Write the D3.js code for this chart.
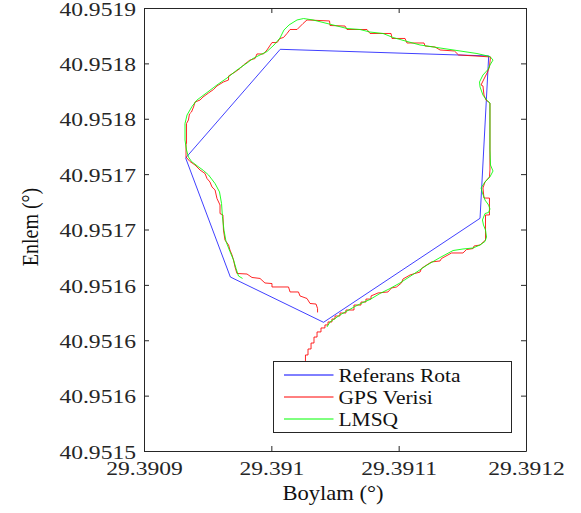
<!DOCTYPE html>
<html>
<head>
<meta charset="utf-8">
<script src="https://cdn.jsdelivr.net/npm/d3@7"></script>
<style>
body { margin: 0; background: #fff; }
text { font-family: "Liberation Serif", "Times New Roman", serif; }
</style>
</head>
<body>
<div id="chartContainer"></div>
<script>
// Referans Rota (blue polygon)
const refLon = [29.3909327, 29.3910070, 29.3911707, 29.3911639, 29.3910410, 29.3909678, 29.3909327];
const refLat = [40.9517646, 40.9518627, 40.9518567, 40.9517101, 40.9516162, 40.9516571, 40.9517646];

// GPS Verisi (red, raw track)
const gpsLon = [
  29.3910268, 29.3910268, 29.3910288, 29.3910288, 29.3910312, 29.3910312, 29.3910335, 29.3910335, 29.3910359, 29.3910359,
  29.3910390, 29.3910390, 29.3910421, 29.3910421, 29.3910445, 29.3910445, 29.3910476, 29.3910476, 29.3910500, 29.3910500,
  29.3910539, 29.3910539, 29.3910586, 29.3910586, 29.3910649, 29.3910649, 29.3910704, 29.3910704, 29.3910743, 29.3910743,
  29.3910783, 29.3910783, 29.3910838, 29.3910916, 29.3910944, 29.3910983, 29.3911022, 29.3911034, 29.3911089, 29.3911128,
  29.3911168, 29.3911179, 29.3911219, 29.3911258, 29.3911325, 29.3911336, 29.3911387, 29.3911415, 29.3911505, 29.3911533,
  29.3911584, 29.3911592, 29.3911639, 29.3911682, 29.3911682, 29.3911713, 29.3911713, 29.3911670, 29.3911662, 29.3911678,
  29.3911713, 29.3911717, 29.3911717, 29.3911686, 29.3911670, 29.3911662, 29.3911647, 29.3911666, 29.3911698, 29.3911713,
  29.3911721, 29.3911600, 29.3911470, 29.3911438, 29.3911325, 29.3911285, 29.3911207, 29.3911199, 29.3911065, 29.3911050,
  29.3910948, 29.3910940, 29.3910775, 29.3910751, 29.3910594, 29.3910579, 29.3910461, 29.3910457, 29.3910280, 29.3910249,
  29.3910202, 29.3910147, 29.3910123, 29.3910096, 29.3910068, 29.3910045, 29.3910005, 29.3909966, 29.3909938, 29.3909887,
  29.3909872, 29.3909832, 29.3909781, 29.3909754, 29.3909715, 29.3909664, 29.3909664, 29.3909624, 29.3909573, 29.3909546,
  29.3909507, 29.3909463, 29.3909440, 29.3909401, 29.3909389, 29.3909373, 29.3909357, 29.3909349, 29.3909334, 29.3909334,
  29.3909330, 29.3909330, 29.3909361, 29.3909401, 29.3909440, 29.3909479, 29.3909495, 29.3909518, 29.3909534, 29.3909558,
  29.3909573, 29.3909597, 29.3909597, 29.3909620, 29.3909624, 29.3909636, 29.3909664, 29.3909675, 29.3909691, 29.3909703,
  29.3909715, 29.3909730, 29.3909809, 29.3909848, 29.3909911, 29.3909950, 29.3910005, 29.3910005, 29.3910135, 29.3910147,
  29.3910213, 29.3910225, 29.3910280, 29.3910304, 29.3910351, 29.3910363, 29.3910363
];
const gpsLat = [
  40.9515813, 40.9515867, 40.9515867, 40.9515921, 40.9515921, 40.9515975, 40.9515975, 40.9516029, 40.9516029, 40.9516075,
  40.9516075, 40.9516111, 40.9516111, 40.9516138, 40.9516138, 40.9516165, 40.9516165, 40.9516192, 40.9516192, 40.9516219,
  40.9516219, 40.9516246, 40.9516246, 40.9516273, 40.9516273, 40.9516318, 40.9516318, 40.9516345, 40.9516345, 40.9516372,
  40.9516372, 40.9516400, 40.9516427, 40.9516436, 40.9516472, 40.9516481, 40.9516517, 40.9516553, 40.9516589, 40.9516603,
  40.9516616, 40.9516648, 40.9516679, 40.9516707, 40.9516716, 40.9516738, 40.9516770, 40.9516788, 40.9516788, 40.9516819,
  40.9516828, 40.9516851, 40.9516860, 40.9516905, 40.9517131, 40.9517131, 40.9517284, 40.9517284, 40.9517375, 40.9517429,
  40.9517475, 40.9517537, 40.9518142, 40.9518169, 40.9518214, 40.9518296, 40.9518305, 40.9518350, 40.9518422, 40.9518467,
  40.9518558, 40.9518567, 40.9518576, 40.9518612, 40.9518621, 40.9518648, 40.9518657, 40.9518684, 40.9518684, 40.9518725,
  40.9518725, 40.9518770, 40.9518770, 40.9518806, 40.9518806, 40.9518837, 40.9518842, 40.9518883, 40.9518892, 40.9518860,
  40.9518806, 40.9518806, 40.9518770, 40.9518734, 40.9518725, 40.9518688, 40.9518688, 40.9518621, 40.9518585, 40.9518585,
  40.9518544, 40.9518530, 40.9518485, 40.9518454, 40.9518422, 40.9518386, 40.9518350, 40.9518332, 40.9518296, 40.9518264,
  40.9518233, 40.9518196, 40.9518169, 40.9518151, 40.9518106, 40.9518061, 40.9518043, 40.9517989, 40.9517957, 40.9517777,
  40.9517777, 40.9517655, 40.9517614, 40.9517582, 40.9517537, 40.9517506, 40.9517460, 40.9517429, 40.9517384, 40.9517357,
  40.9517280, 40.9517221, 40.9517144, 40.9517131, 40.9516995, 40.9516905, 40.9516860, 40.9516815, 40.9516770, 40.9516725,
  40.9516661, 40.9516603, 40.9516598, 40.9516567, 40.9516558, 40.9516517, 40.9516512, 40.9516481, 40.9516481, 40.9516436,
  40.9516436, 40.9516400, 40.9516377, 40.9516332, 40.9516327, 40.9516287, 40.9516251
];

// LMSQ (green, smoothed track)
const lmsqLon = [
  29.3910437, 29.3910461, 29.3910500, 29.3910539, 29.3910594, 29.3910657, 29.3910720, 29.3910775, 29.3910853, 29.3910932,
  29.3911010, 29.3911113, 29.3911223, 29.3911325, 29.3911427, 29.3911505, 29.3911584, 29.3911639, 29.3911678, 29.3911690,
  29.3911682, 29.3911666, 29.3911658, 29.3911678, 29.3911706, 29.3911717, 29.3911706, 29.3911678, 29.3911658, 29.3911647,
  29.3911678, 29.3911717, 29.3911741, 29.3911721, 29.3911717, 29.3911717, 29.3911690, 29.3911662, 29.3911639, 29.3911635,
  29.3911662, 29.3911702, 29.3911717, 29.3911741, 29.3911717, 29.3911615, 29.3911458, 29.3911301, 29.3911168, 29.3911065,
  29.3910955, 29.3910877, 29.3910775, 29.3910696, 29.3910594, 29.3910484, 29.3910327, 29.3910253, 29.3910202, 29.3910139,
  29.3910099, 29.3910068, 29.3910021, 29.3909966, 29.3909911, 29.3909856, 29.3909809, 29.3909730, 29.3909652, 29.3909573,
  29.3909495, 29.3909416, 29.3909377, 29.3909338, 29.3909322, 29.3909322, 29.3909334, 29.3909349, 29.3909373, 29.3909424,
  29.3909467, 29.3909507, 29.3909558, 29.3909593, 29.3909609, 29.3909616, 29.3909628, 29.3909644, 29.3909675, 29.3909703,
  29.3909723, 29.3909742, 29.3909774
];
const lmsqLat = [
  40.9516120, 40.9516165, 40.9516196, 40.9516228, 40.9516264, 40.9516305, 40.9516341, 40.9516368, 40.9516422, 40.9516467,
  40.9516517, 40.9516594, 40.9516679, 40.9516747, 40.9516810, 40.9516824, 40.9516833, 40.9516860, 40.9516892, 40.9516932,
  40.9516995, 40.9517041, 40.9517086, 40.9517144, 40.9517154, 40.9517185, 40.9517221, 40.9517266, 40.9517330, 40.9517375,
  40.9517429, 40.9517475, 40.9517528, 40.9517582, 40.9517718, 40.9518142, 40.9518169, 40.9518214, 40.9518287, 40.9518332,
  40.9518395, 40.9518445, 40.9518485, 40.9518530, 40.9518562, 40.9518589, 40.9518616, 40.9518643, 40.9518666, 40.9518698,
  40.9518734, 40.9518770, 40.9518783, 40.9518806, 40.9518815, 40.9518847, 40.9518892, 40.9518905, 40.9518892, 40.9518847,
  40.9518801, 40.9518729, 40.9518666, 40.9518607, 40.9518576, 40.9518544, 40.9518503, 40.9518440, 40.9518368, 40.9518305,
  40.9518237, 40.9518169, 40.9518111, 40.9518034, 40.9517957, 40.9517808, 40.9517718, 40.9517655, 40.9517614, 40.9517569,
  40.9517533, 40.9517492, 40.9517415, 40.9517339, 40.9517235, 40.9517117, 40.9516995, 40.9516892, 40.9516801, 40.9516725,
  40.9516648, 40.9516580, 40.9516558
];

const xTicks = [29.3909, 29.391, 29.3911, 29.3912];
const xTickLabels = ["29.3909", "29.391", "29.3911", "29.3912"];
const yTicks = [40.9515, 40.95155, 40.9516, 40.95165, 40.9517, 40.95175, 40.9518, 40.95185, 40.9519];
const yTickLabels = ["40.9515", "40.9516", "40.9516", "40.9516", "40.9517", "40.9517", "40.9518", "40.9518", "40.9519"];

const seriesNames = ["Referans Rota", "GPS Verisi", "LMSQ"];
const seriesColors = ["#0000ff", "#ff0000", "#00ff00"];

const margin = { top: 8, right: 55, bottom: 62, left: 144 },
      width = 581 - margin.left - margin.right,
      height = 513 - margin.top - margin.bottom;
const axisColor = "#262626";
const tickStretch = 1.31;   // the picture's text is drawn wider than normal
const labelStretch = 1.13;

const svg = d3.select("#chartContainer").append("svg")
    .attr("width", 581)
    .attr("height", 513);
const g = svg.append("g")
    .attr("transform", `translate(${margin.left},${margin.top})`);

const x = d3.scaleLinear().domain([29.3909, 29.3912]).range([0, width]);
const y = d3.scaleLinear().domain([40.9515, 40.9519]).range([height, 0]);

const series = [
  d3.zip(refLon, refLat),
  d3.zip(gpsLon, gpsLat),
  d3.zip(lmsqLon, lmsqLat)
];

const line = d3.line().x(d => x(d[0])).y(d => y(d[1]));

series.forEach((pts, i) => {
  g.append("path")
    .datum(pts)
    .attr("d", line)
    .attr("fill", "none")
    .attr("stroke", seriesColors[i])
    .attr("stroke-width", 1)
    .attr("stroke-opacity", i === 0 ? 0.75 : 0.85);
});

// axes (box with inward ticks on every side)
function styleAxis(sel) {
  sel.selectAll("path.domain").attr("stroke", axisColor);
  sel.selectAll(".tick line").attr("stroke", axisColor);
  sel.selectAll("text")
    .attr("fill", axisColor)
    .style("font-size", "18px")
    .style("font-family", "'Liberation Serif', serif");
}

const xAxis = g.append("g")
  .attr("transform", `translate(0,${height})`)
  .call(d3.axisBottom(x).tickValues(xTicks).tickFormat((d, i) => xTickLabels[i])
    .tickSizeInner(-5).tickSizeOuter(0).tickPadding(11))
  .call(styleAxis);
xAxis.selectAll("text").attr("transform", `scale(${tickStretch},1)`);

const yAxis = g.append("g")
  .call(d3.axisLeft(y).tickValues(yTicks).tickFormat((d, i) => yTickLabels[i])
    .tickSizeInner(-5).tickSizeOuter(0).tickPadding(8))
  .call(styleAxis);
yAxis.selectAll("text")
  .attr("x", -8 / tickStretch)
  .attr("dy", "0.4em")
  .attr("transform", `scale(${tickStretch},1)`);

g.append("g")
  .call(d3.axisTop(x).tickValues(xTicks).tickFormat("").tickSizeInner(-5).tickSizeOuter(0))
  .call(styleAxis);
g.append("g")
  .attr("transform", `translate(${width},0)`)
  .call(d3.axisRight(y).tickValues(yTicks).tickFormat("").tickSizeInner(-5).tickSizeOuter(0))
  .call(styleAxis);

// axis titles
svg.append("text")
  .attr("transform", `translate(${margin.left + width / 2 - 2},500) scale(${labelStretch},1)`)
  .attr("text-anchor", "middle")
  .style("font-size", "20px")
  .attr("fill", "#111")
  .text("Boylam (°)");

svg.append("text")
  .attr("transform", `translate(38,227) scale(${labelStretch},1) rotate(-90)`)
  .attr("text-anchor", "middle")
  .style("font-size", "20px")
  .attr("fill", "#111")
  .text("Enlem (°)");

// legend
const legend = svg.append("g").attr("transform", "translate(273.5,361.5)");
legend.append("rect")
  .attr("width", 238)
  .attr("height", 71)
  .attr("fill", "#fff")
  .attr("stroke", axisColor)
  .attr("stroke-width", 1);

seriesNames.forEach((name, i) => {
  const ly = 13.5 + i * 22;
  legend.append("line")
    .attr("x1", 10.5).attr("x2", 60)
    .attr("y1", ly).attr("y2", ly)
    .attr("stroke", seriesColors[i])
    .attr("stroke-width", 1);
  legend.append("text")
    .attr("transform", `translate(65,${ly + 7}) scale(1.16,1)`)
    .style("font-size", "18.5px")
    .attr("fill", "#111")
    .text(name);
});
</script>
</body>
</html>
